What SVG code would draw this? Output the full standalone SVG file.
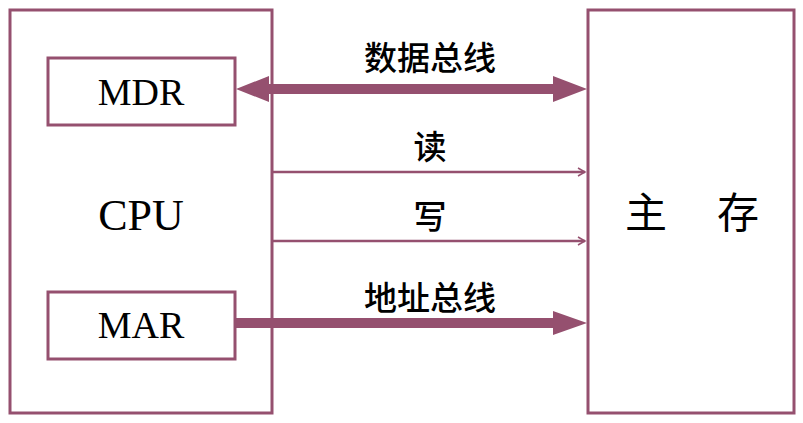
<svg xmlns="http://www.w3.org/2000/svg" width="803" height="423" viewBox="0 0 803 423">
<style>
.box{fill:#fff;stroke:#95506F;stroke-width:3}
.lat{font-family:"Liberation Serif","Times New Roman",serif;fill:#000;text-anchor:middle}
.cjk{font-family:"Noto Sans CJK SC","Noto Sans",sans-serif;fill:#000;text-anchor:middle}
.lbl{font-size:33px;font-weight:500}
.thin{stroke:#95506F;stroke-width:2.5;fill:none}
.chev{stroke:#95506F;stroke-width:1.5;fill:none}
.bus{fill:#95506F}
</style>
<rect width="803" height="423" fill="#fff"/>
<g id="cpu">
<rect class="box" x="10" y="10" width="262" height="403"/>
<text class="lat" x="141" y="230" font-size="44">CPU</text>
</g>
<g id="mdr">
<rect class="box" x="48" y="58" width="187" height="67"/>
<text class="lat" x="141" y="105" font-size="38">MDR</text>
</g>
<g id="mar">
<rect class="box" x="48" y="292" width="187" height="67"/>
<text class="lat" x="141" y="338" font-size="38">MAR</text>
</g>
<g id="memory">
<rect class="box" x="588" y="10" width="206" height="403"/>
<text class="cjk" x="646" y="228" font-size="42">主</text>
<text class="cjk" x="738" y="228" font-size="42">存</text>
</g>
<g id="connectors">
<polygon class="bus" points="236,89 269,76 269,84 553,84 553,76 587,89 553,102 553,94 269,94 269,102"/>
<polygon class="bus" points="236,318 553,318 553,311 587,323 553,335 553,328 236,328"/>
<line class="thin" x1="272" y1="172" x2="585" y2="172"/>
<polyline class="chev" points="578,168 585,172 578,176"/>
<line class="thin" x1="272" y1="241" x2="585" y2="241"/>
<polyline class="chev" points="578,237 585,241 578,245"/>
<text class="cjk lbl" x="430" y="70">数据总线</text>
<text class="cjk lbl" x="430" y="159">读</text>
<text class="cjk lbl" x="430" y="229">写</text>
<text class="cjk lbl" x="430" y="310">地址总线</text>
</g>
</svg>
